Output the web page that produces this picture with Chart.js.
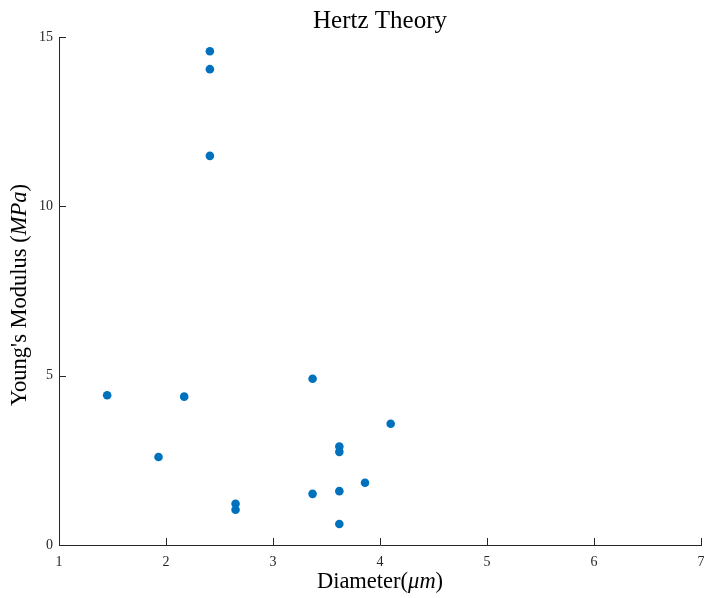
<!DOCTYPE html>
<html><head><meta charset="utf-8">
<script src="https://cdn.jsdelivr.net/npm/chart.js@4/dist/chart.umd.min.js"></script>
<style>html,body{margin:0;padding:0;background:#fff}#wrap{width:706px;height:598px}</style>
</head><body><div id="wrap"><canvas id="c" width="706" height="598"></canvas></div>
<script>
const diameters = [1.45, 1.93, 2.17, 2.41, 2.41, 2.41, 2.65, 2.65, 3.37, 3.37, 3.62, 3.62, 3.62, 3.62, 3.86, 4.10];
const moduli = [4.42, 2.60, 4.38, 14.58, 14.05, 11.49, 1.22, 1.04, 4.91, 1.51, 2.91, 2.75, 1.59, 0.62, 1.84, 3.58];
const xTickValues = [1, 2, 3, 4, 5, 6, 7];
const yTickValues = [0, 5, 10, 15];
const chartTitle = 'Hertz Theory';
const xTitleParts = [['Diameter(', false], ['μm', true], [')', false]];
const yTitleParts = [["Young's Modulus (", false], ['MPa', true], [')', false]];

const FONT = '"Liberation Serif", "DejaVu Serif", serif';
const AXIS = '#262626';

const points = diameters.map((d, i) => ({x: d, y: moduli[i]}));

function drawParts(ctx, parts, size) {
  let total = 0;
  const widths = parts.map(([t, it]) => {
    ctx.font = (it ? 'italic ' : '') + size + 'px ' + FONT;
    const w = ctx.measureText(t).width; total += w; return w;
  });
  let x = -total / 2;
  parts.forEach(([t, it], i) => {
    ctx.font = (it ? 'italic ' : '') + size + 'px ' + FONT;
    ctx.fillText(t, x, 0);
    x += widths[i];
  });
}

const decor = {
  id: 'decor',
  afterDraw(chart) {
    const ctx = chart.ctx;
    const xs = chart.scales.x, ys = chart.scales.y;
    const a = chart.chartArea;
    const cx = (a.left + a.right) / 2;
    ctx.save();
    ctx.strokeStyle = AXIS; ctx.lineWidth = 1;
    ctx.beginPath();
    xTickValues.forEach(v => {
      const px = Math.round(xs.getPixelForValue(v)) + 0.5;
      ctx.moveTo(px, a.bottom); ctx.lineTo(px, a.bottom - 7);
    });
    yTickValues.forEach(v => {
      const py = Math.round(ys.getPixelForValue(v)) + 0.5;
      ctx.moveTo(a.left, py); ctx.lineTo(a.left + 7, py);
    });
    ctx.stroke();
    ctx.fillStyle = '#000';
    ctx.textBaseline = 'alphabetic';
    ctx.textAlign = 'left';
    ctx.save();
    ctx.translate(cx, 27.5);
    drawParts(ctx, [[chartTitle, false]], 25);
    ctx.restore();
    ctx.save();
    ctx.translate(cx, 588);
    drawParts(ctx, xTitleParts, 22.5);
    ctx.restore();
    ctx.save();
    ctx.translate(26, 295);
    ctx.rotate(-Math.PI / 2);
    drawParts(ctx, yTitleParts, 22.5);
    ctx.restore();
    ctx.restore();
  }
};

new Chart(document.getElementById('c'), {
  type: 'scatter',
  data: { datasets: [{ data: points, backgroundColor: '#0072BD', borderColor: '#0072BD', borderWidth: 0, pointRadius: 4.3, pointHoverRadius: 4.3 }] },
  options: {
    responsive: false, animation: false, devicePixelRatio: 1,
    layout: { padding: { left: 0, right: 5, top: 37, bottom: 0 } },
    plugins: {
      legend: { display: false }, tooltip: { enabled: false },
      title: { display: false }
    },
    scales: {
      x: {
        type: 'linear', min: 1, max: 7,
        afterBuildTicks: s => { s.ticks = xTickValues.map(v => ({value: v})); },
        ticks: { color: AXIS, font: { family: FONT, size: 14 }, padding: 9 },
        grid: { drawOnChartArea: false, drawTicks: false, tickLength: 0 },
        border: { display: true, color: AXIS, width: 1 },
        afterFit: s => { s.height = 53; s.paddingLeft = 0; s.paddingRight = 0; }
      },
      y: {
        type: 'linear', min: 0, max: 15,
        afterBuildTicks: s => { s.ticks = yTickValues.map(v => ({value: v})); },
        ticks: { color: AXIS, font: { family: FONT, size: 14 }, padding: 6 },
        grid: { drawOnChartArea: false, drawTicks: false, tickLength: 0 },
        border: { display: true, color: AXIS, width: 1 },
        afterFit: s => { s.width = 59; s.paddingTop = 0; s.paddingBottom = 0; }
      }
    }
  },
  plugins: [decor]
});
</script></body></html>
